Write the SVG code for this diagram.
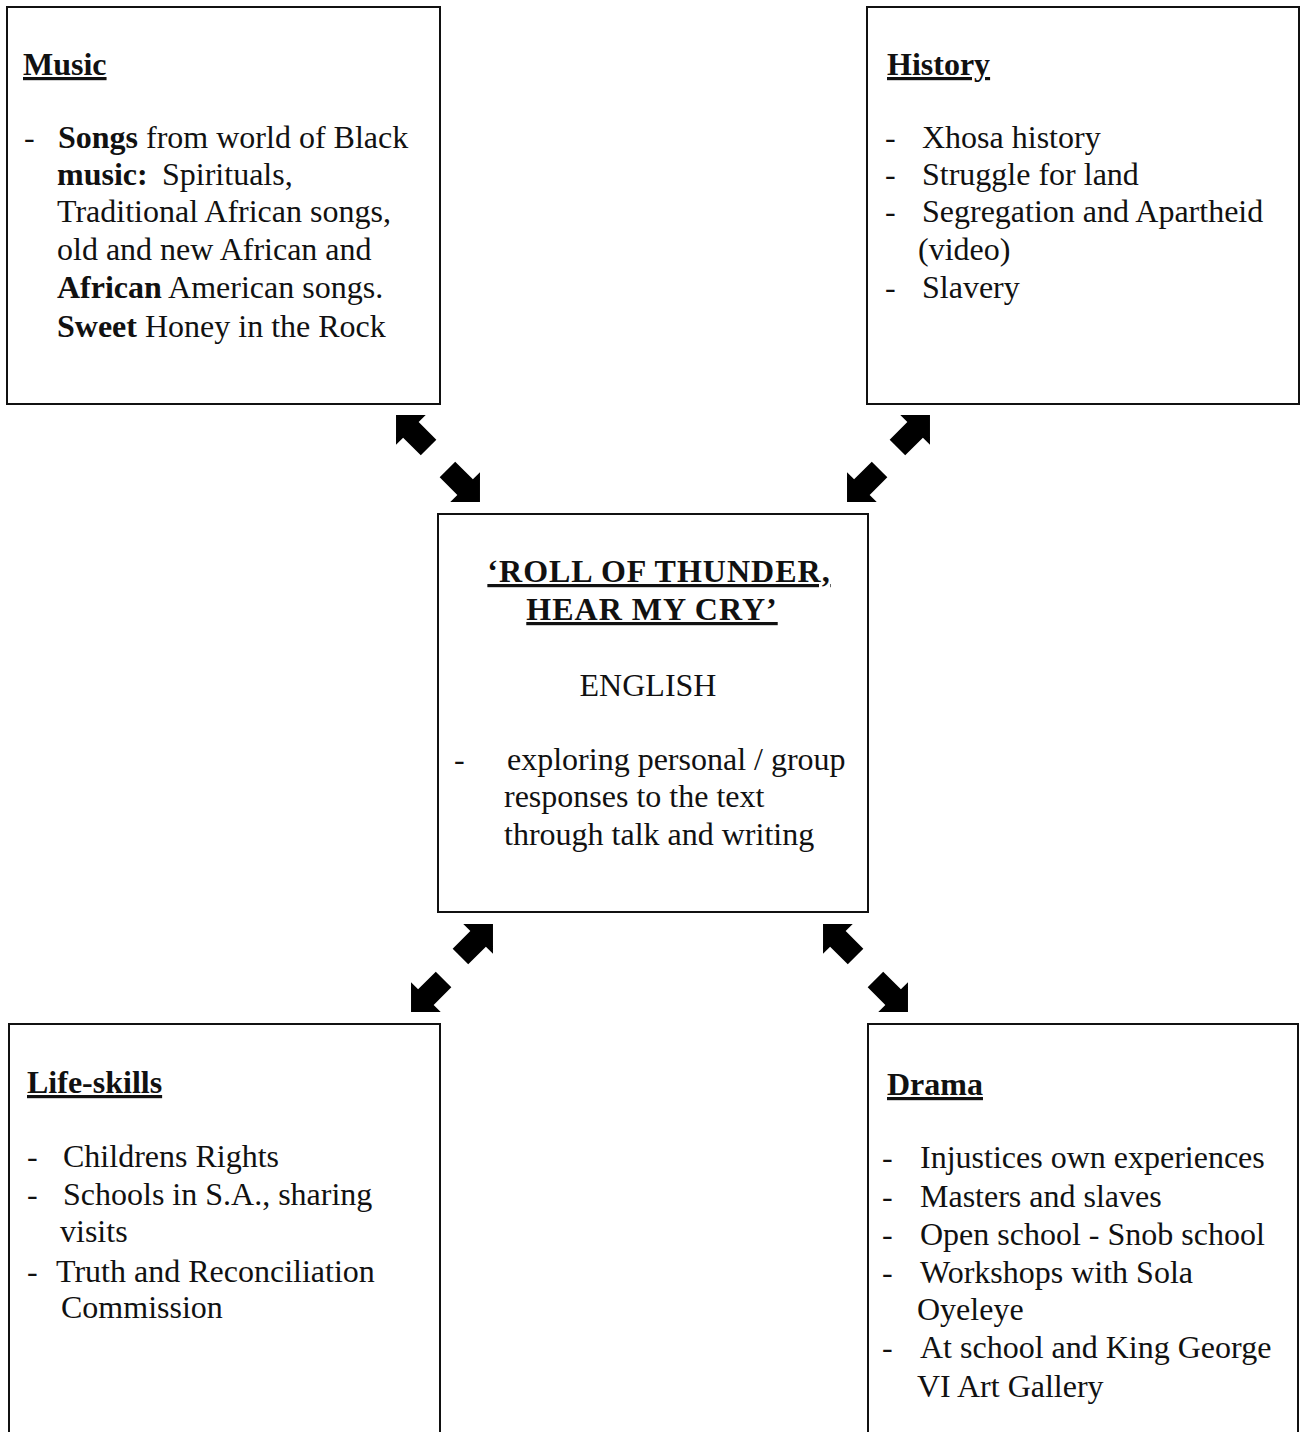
<svg xmlns="http://www.w3.org/2000/svg" xmlns:xlink="http://www.w3.org/1999/xlink" width="1302" height="1432" viewBox="0 0 1302 1432">
<style>
.box{fill:#fff;stroke:#111;stroke-width:2}
text{font-family:"Liberation Serif","Times New Roman",serif;font-size:32px;fill:#111}
.h{font-weight:bold;text-decoration:underline}
.t{letter-spacing:1px}
.b{font-weight:bold}
.arr{fill:#000}
</style>
<defs>
<path id="arr" d="M24,0 L3,-21 L3,-11 L-22,-11 L-22,11 L3,11 L3,21 Z"/>
</defs>
<rect width="1302" height="1432" fill="#fff"/>
<g id="music">
<rect class="box" x="7" y="7" width="433" height="397"/>
<text class="h" x="23" y="75">Music</text>
<text x="24" y="148">-</text>
<text x="58" y="148"><tspan class="b">Songs</tspan> from world of Black</text>
<text x="57" y="185"><tspan class="b">music:</tspan></text>
<text x="162" y="185">Spirituals,</text>
<text x="57" y="222">Traditional African songs,</text>
<text x="57" y="260">old and new African and</text>
<text x="57" y="298"><tspan class="b">African</tspan> American songs.</text>
<text x="57" y="337"><tspan class="b">Sweet</tspan> Honey in the Rock</text>
</g>
<g id="history">
<rect class="box" x="867" y="7" width="432" height="397"/>
<text class="h" x="887" y="75">History</text>
<text x="885" y="148">-</text><text x="922" y="148">Xhosa history</text>
<text x="885" y="185">-</text><text x="922" y="185">Struggle for land</text>
<text x="885" y="222">-</text><text x="922" y="222">Segregation and Apartheid</text>
<text x="918" y="260">(video)</text>
<text x="885" y="298">-</text><text x="922" y="298">Slavery</text>
</g>
<g id="english">
<rect class="box" x="438" y="514" width="430" height="398"/>
<text class="h t" x="659" y="582" text-anchor="middle">‘ROLL OF THUNDER,</text>
<text class="h t" x="652" y="620" text-anchor="middle">HEAR MY CRY’</text>
<text x="648" y="696" text-anchor="middle">ENGLISH</text>
<text x="454" y="770">-</text><text x="507" y="770">exploring personal / group</text>
<text x="504" y="807">responses to the text</text>
<text x="504" y="845">through talk and writing</text>
</g>
<g id="lifeskills">
<path class="box" d="M9,1440 L9,1024 L440,1024 L440,1440"/>
<text class="h" x="27" y="1093">Life-skills</text>
<text x="27" y="1167">-</text><text x="63" y="1167">Childrens Rights</text>
<text x="27" y="1205">-</text><text x="63" y="1205">Schools in S.A., sharing</text>
<text x="60" y="1242">visits</text>
<text x="27" y="1282">-</text><text x="56" y="1282">Truth and Reconciliation</text>
<text x="61" y="1318">Commission</text>
</g>
<g id="drama">
<path class="box" d="M868,1440 L868,1024 L1298,1024 L1298,1440"/>
<text class="h" x="887" y="1095">Drama</text>
<text x="882" y="1168">-</text><text x="920" y="1168">Injustices own experiences</text>
<text x="882" y="1207">-</text><text x="920" y="1207">Masters and slaves</text>
<text x="882" y="1245">-</text><text x="920" y="1245">Open school - Snob school</text>
<text x="882" y="1283">-</text><text x="920" y="1283">Workshops with Sola</text>
<text x="917" y="1320">Oyeleye</text>
<text x="882" y="1358">-</text><text x="920" y="1358">At school and King George</text>
<text x="917" y="1397">VI Art Gallery</text>
</g>
<g id="connectors" class="arr">
<use xlink:href="#arr" transform="translate(413,432) rotate(-135)"/>
<use xlink:href="#arr" transform="translate(463,485) rotate(45)"/>
<use xlink:href="#arr" transform="translate(913,432) rotate(-45)"/>
<use xlink:href="#arr" transform="translate(864,485) rotate(135)"/>
<use xlink:href="#arr" transform="translate(476,941) rotate(-45)"/>
<use xlink:href="#arr" transform="translate(428,995) rotate(135)"/>
<use xlink:href="#arr" transform="translate(840,941) rotate(-135)"/>
<use xlink:href="#arr" transform="translate(891,995) rotate(45)"/>
</g>
</svg>
